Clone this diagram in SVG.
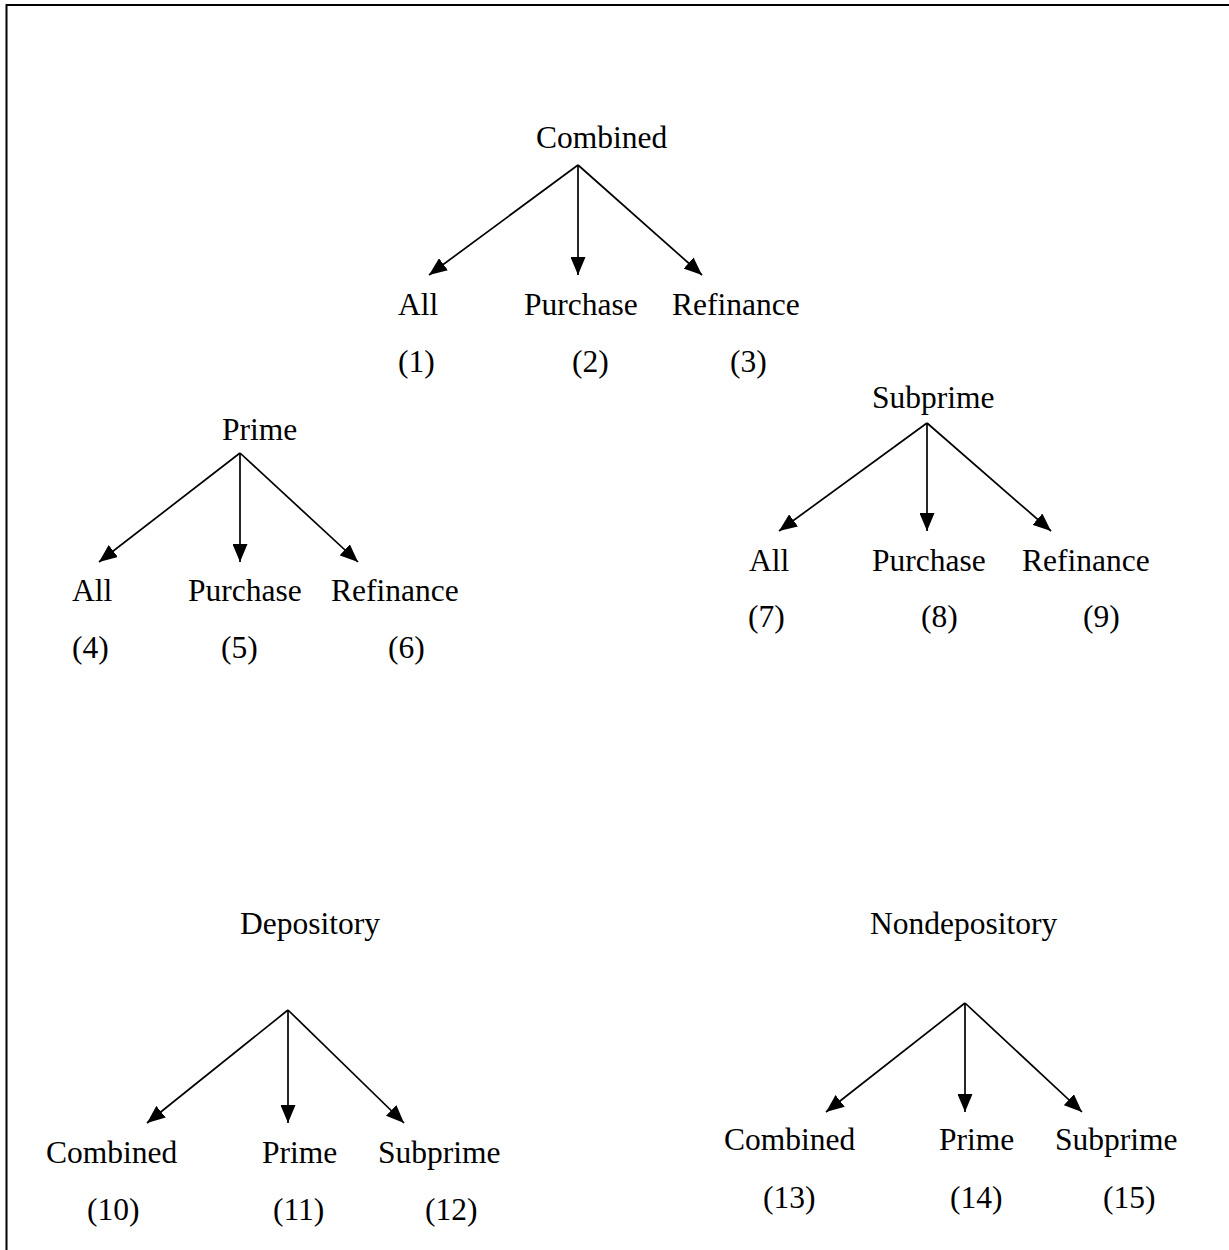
<svg xmlns="http://www.w3.org/2000/svg" width="1229" height="1250" viewBox="0 0 1229 1250">
<defs>
<marker id="ah" viewBox="0 0 18 15" refX="18" refY="7.5" markerWidth="18" markerHeight="15" markerUnits="userSpaceOnUse" orient="auto">
<path d="M0,0 L18,7.5 L0,15 Z" fill="#000"/>
</marker>
<style>
text{font-family:"Liberation Serif","Times New Roman",serif;font-size:31.5px;fill:#000}
.c line{stroke:#000;stroke-width:1.7;marker-end:url(#ah)}
</style>
</defs>
<rect width="1229" height="1250" fill="#fff"/>
<g id="frame" fill="none" stroke="#000" stroke-width="2">
<path d="M6.5,1250 L6.5,5 L1229,5"/>
</g>
<g id="connectors" class="c">
<line x1="578" y1="165" x2="429" y2="275"/>
<line x1="578" y1="165" x2="578" y2="275"/>
<line x1="578" y1="165" x2="702" y2="275"/>
<line x1="240" y1="453" x2="99" y2="562"/>
<line x1="240" y1="453" x2="240" y2="562"/>
<line x1="240" y1="453" x2="358" y2="562"/>
<line x1="927" y1="423" x2="779" y2="531"/>
<line x1="927" y1="423" x2="927" y2="531"/>
<line x1="927" y1="423" x2="1051" y2="531"/>
<line x1="288" y1="1010" x2="147" y2="1123"/>
<line x1="288" y1="1010" x2="288" y2="1123"/>
<line x1="288" y1="1010" x2="404" y2="1123"/>
<line x1="965" y1="1003" x2="826" y2="1112"/>
<line x1="965" y1="1003" x2="965" y2="1112"/>
<line x1="965" y1="1003" x2="1082" y2="1112"/>
</g>
<g id="n-combined"><text x="536" y="148">Combined</text></g>
<g id="n1"><text x="398" y="315">All</text><text x="398" y="372">(1)</text></g>
<g id="n2"><text x="524" y="315">Purchase</text><text x="572" y="372">(2)</text></g>
<g id="n3"><text x="672" y="315">Refinance</text><text x="730" y="372">(3)</text></g>
<g id="n-prime"><text x="222" y="440">Prime</text></g>
<g id="n4"><text x="72" y="601">All</text><text x="72" y="658">(4)</text></g>
<g id="n5"><text x="188" y="601">Purchase</text><text x="221" y="658">(5)</text></g>
<g id="n6"><text x="331" y="601">Refinance</text><text x="388" y="658">(6)</text></g>
<g id="n-subprime"><text x="872" y="408">Subprime</text></g>
<g id="n7"><text x="749" y="571">All</text><text x="748" y="627">(7)</text></g>
<g id="n8"><text x="872" y="571">Purchase</text><text x="921" y="627">(8)</text></g>
<g id="n9"><text x="1022" y="571">Refinance</text><text x="1083" y="627">(9)</text></g>
<g id="n-depository"><text x="240" y="934">Depository</text></g>
<g id="n10"><text x="46" y="1163">Combined</text><text x="87" y="1220">(10)</text></g>
<g id="n11"><text x="262" y="1163">Prime</text><text x="273" y="1220">(11)</text></g>
<g id="n12"><text x="378" y="1163">Subprime</text><text x="425" y="1220">(12)</text></g>
<g id="n-nondepository"><text x="870" y="934">Nondepository</text></g>
<g id="n13"><text x="724" y="1150">Combined</text><text x="763" y="1208">(13)</text></g>
<g id="n14"><text x="939" y="1150">Prime</text><text x="950" y="1208">(14)</text></g>
<g id="n15"><text x="1055" y="1150">Subprime</text><text x="1103" y="1208">(15)</text></g>
</svg>
